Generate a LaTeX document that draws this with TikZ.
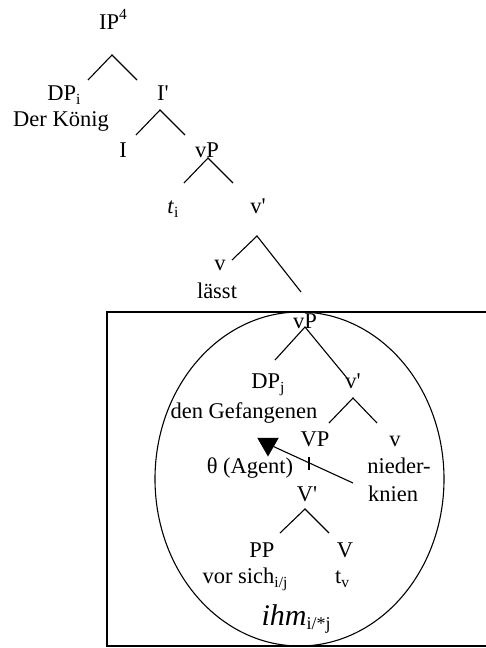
\documentclass[tikz,border=0pt]{standalone}
\usepackage{fontspec}
\setmainfont{Liberation Serif}
\usetikzlibrary{shapes.geometric}
\newcommand\lsub[1]{\raisebox{-0.22em}{\fontsize{15.5}{17}\selectfont #1}}
\newcommand\lsup[1]{\raisebox{0.42em}{\fontsize{15.5}{17}\selectfont #1}}
\tikzset{
  lbl/.style={anchor=base, inner sep=0pt, font=\fontsize{22.5}{26}\selectfont},
  big/.style={anchor=base, inner sep=0pt, font=\fontsize{30}{34}\selectfont},
  branch/.style={line width=1.1pt},
  frame/.style={line width=1.1pt},
  arrowhead/.style={regular polygon, regular polygon sides=3, shape border rotate=180,
    fill=black, inner sep=0pt, minimum size=25pt}
}
\begin{document}
\begin{tikzpicture}[x=1pt,y=-1pt]
\useasboundingbox (0,0) rectangle (485,648);
% frame (right side lies outside the picture) and ellipse
\draw[frame] (490,312) -- (107,312) -- (107,646) -- (490,646);
\draw[frame] (299.5,479) ellipse [x radius=144.5pt, y radius=167pt];
% labels
\node[lbl] (ip) at (113,29) {IP\lsup{4}};
\node[lbl] (dpi) at (64,100) {DP\lsub{i}};
\node[lbl] (koenig) at (61,126) {Der König};
\node[lbl] (ibar) at (163,100) {I\textquotesingle};
\node[lbl] (i) at (123,157) {I};
\node[lbl] (vp1) at (207,157) {vP};
\node[lbl] (ti) at (173,213) {\textit{t}\lsub{i}};
\node[lbl] (vbar1) at (258,213) {v\textquotesingle};
\node[lbl] (v1) at (220,270) {v};
\node[lbl] (laesst) at (217,298) {lässt};
\node[lbl] (vp2) at (305,328) {vP};
\node[lbl] (dpj) at (268,388) {DP\lsub{j}};
\node[lbl] (vbar2) at (353,388) {v\textquotesingle};
\node[lbl] (gef) at (244,418) {den Gefangenen};
\node[lbl] (VP) at (315,446) {VP};
\node[lbl] (v2) at (395,446) {v};
\node[lbl] (theta) at (250,473) {θ (Agent)};
\node[lbl] (nieder) at (399,473) {nieder-};
\node[lbl] (knien) at (393,501) {knien};
\node[lbl] (Vbar) at (307,501) {V\textquotesingle};
\node[lbl] (pp) at (262,557) {PP};
\node[lbl] (V) at (345,557) {V};
\node[lbl] (vorsich) at (245,583) {vor sich\lsub{i/j}};
\node[lbl] (tv) at (342,583) {t\lsub{v}};
\node[big] (ihm) at (296,625) {\textit{ihm}\raisebox{-0.15em}{\fontsize{18}{20}\selectfont i/*j}};
% branch points
\coordinate (a1) at (112,55); \coordinate (l1) at (88,80); \coordinate (r1) at (137,80);
\coordinate (a2) at (160,110); \coordinate (l2) at (136,135); \coordinate (r2) at (185,135);
\coordinate (a3) at (208,158); \coordinate (l3) at (184,183); \coordinate (r3) at (233,183);
\coordinate (a4) at (257,236); \coordinate (l4) at (232,260); \coordinate (r4) at (301,292);
\coordinate (a5) at (305,327); \coordinate (l5) at (275,360); \coordinate (r5) at (347,378);
\coordinate (a6) at (353,398); \coordinate (l6) at (329,423); \coordinate (r6) at (377,423);
\coordinate (t7) at (309,457); \coordinate (b7) at (309,470);
\coordinate (a8) at (305,509); \coordinate (l8) at (280,533); \coordinate (r8) at (329,533);
\draw[branch] (l1) -- (a1) -- (r1);
\draw[branch] (l2) -- (a2) -- (r2);
\draw[branch] (l3) -- (a3) -- (r3);
\draw[branch] (l4) -- (a4) -- (r4);
\draw[branch] (l5) -- (a5) -- (r5);
\draw[branch] (l6) -- (a6) -- (r6);
\draw[branch] (t7) -- (b7);
\draw[branch] (l8) -- (a8) -- (r8);
% theta arrow
\node[arrowhead] (tri) at (268,444) {};
\coordinate (arrstart) at (353,483);
\draw[branch] (arrstart) -- (tri);
\end{tikzpicture}
\end{document}
